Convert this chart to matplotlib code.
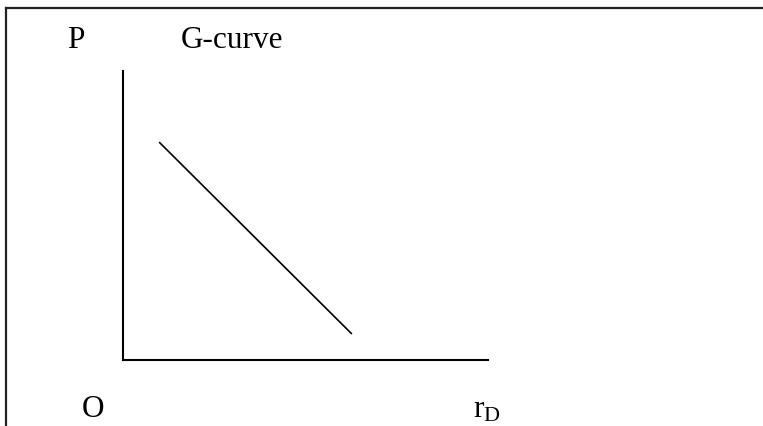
import matplotlib.pyplot as plt
from matplotlib.lines import Line2D

plt.rcParams['font.family'] = ['Liberation Serif', 'DejaVu Serif']

# G-curve endpoints (abstract units, axes run 0..10)
g_x = [0.99, 6.27]
g_y = [7.54, 0.90]

W, H = 763, 427
fig = plt.figure(figsize=(W / 100, H / 100), dpi=100)

# axes box sits exactly on the drawn axis lines
ax = fig.add_axes([123 / W, (H - 361) / H, (488 - 123) / W, (361 - 72) / H])
ax.set_xlim(0, 10)
ax.set_ylim(0, 10)
ax.plot(g_x, g_y, color='black', lw=1.2, solid_capstyle='butt')
for s in ['top', 'right']:
    ax.spines[s].set_visible(False)
for s in ['left', 'bottom']:
    ax.spines[s].set_linewidth(1.5)
ax.set_xticks([])
ax.set_yticks([])
ax.patch.set_alpha(0)

# outer frame (top and left edges only)
def px(x, y):
    return x / W, 1 - y / H

x0, y0 = px(5.5, 8.5)
fig.add_artist(Line2D([x0, 1.0], [y0, y0], color='#222222', lw=1.6))
fig.add_artist(Line2D([x0, x0], [0.0, y0], color='#222222', lw=1.6))

fs = 22.5
fig.text(*px(67, 48), 'P', fontsize=fs, va='baseline', ha='left')
fig.text(*px(181, 48), 'G-curve', fontsize=fs, va='baseline', ha='left')
fig.text(*px(82, 417), 'O', fontsize=fs, va='baseline', ha='left')
fig.text(*px(473, 417), 'r', fontsize=fs, va='baseline', ha='left')
fig.text(*px(483, 421), 'D', fontsize=16, va='baseline', ha='left')

fig.savefig('out.png', dpi=100)
